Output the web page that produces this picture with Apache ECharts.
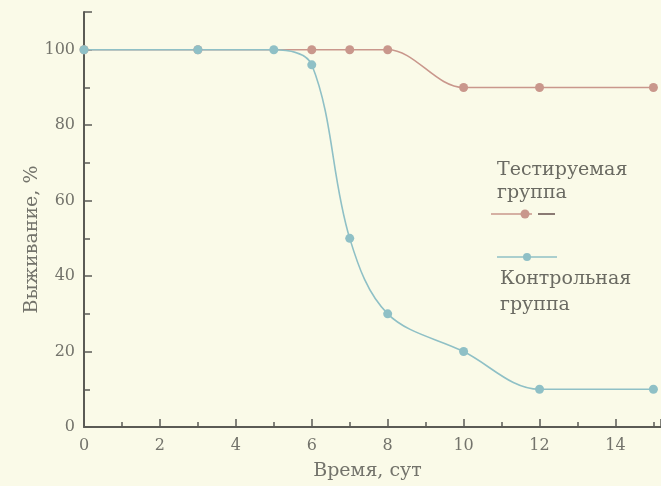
<!DOCTYPE html>
<html>
<head>
<meta charset="utf-8">
<script src="https://cdn.jsdelivr.net/npm/echarts@6/dist/echarts.min.js"></script>
<style>
  html, body { margin: 0; padding: 0; background: #fafae8; }
  #chart { width: 661px; height: 486px; }
</style>
</head>
<body>
<div id="chart"></div>
<script>
// данные
const testDays = [0, 3, 6, 7, 8, 10, 12, 15];
const testSurvival = [100, 100, 100, 100, 100, 90, 90, 90];
const controlDays = [0, 3, 5, 6, 7, 8, 10, 12, 15];
const controlSurvival = [100, 100, 100, 96, 50, 30, 20, 10, 10];

const testColor = '#c9978c';
const controlColor = '#8fc0c6';
const axisColor = '#5b5b55';
const textColor = '#73736b';
const serif = '"DejaVu Serif", "Liberation Serif", serif';

function pairs(xs, ys) {
  return xs.map(function (x, i) { return [x, ys[i]]; });
}

const chart = echarts.init(document.getElementById('chart'), null, { renderer: 'canvas' });

var option = {
  backgroundColor: '#fafae8',
  animation: false,
  textStyle: { fontFamily: serif },
  grid: { left: 84, right: 0, top: 12, bottom: 58 },
  xAxis: {
    type: 'value',
    min: 0,
    max: 15.2,
    interval: 2,
    name: 'Время, сут',
    nameLocation: 'middle',
    nameGap: 35,
    nameTextStyle: { fontSize: 19, color: textColor, fontFamily: serif, padding: [0, 10, 0, 0] },
    axisLine: { lineStyle: { color: axisColor, width: 2 } },
    axisTick: { inside: true, length: 8, lineStyle: { color: axisColor, width: 1.5 } },
    minorTick: { show: true, splitNumber: 2, length: 5, lineStyle: { color: axisColor, width: 1.5 } },
    axisLabel: { fontSize: 16, color: textColor, fontFamily: serif, margin: 11, showMaxLabel: false },
    splitLine: { show: false }
  },
  yAxis: {
    type: 'value',
    min: 0,
    max: 110,
    interval: 20,
    name: 'Выживание, %',
    nameLocation: 'middle',
    nameGap: 42,
    nameMoveOverlap: false,
    nameTextStyle: { fontSize: 19, color: textColor, fontFamily: serif, padding: [0, 40, 0, 0] },
    axisLine: { show: true, lineStyle: { color: axisColor, width: 2 } },
    axisTick: { show: true, inside: true, length: 8, lineStyle: { color: axisColor, width: 1.5 } },
    minorTick: { show: true, splitNumber: 2, length: 6, lineStyle: { color: axisColor, width: 1.5 } },
    axisLabel: { fontSize: 16, color: textColor, fontFamily: serif, margin: 9, showMaxLabel: false },
    splitLine: { show: false }
  },
  series: [
    {
      name: 'Тестируемая группа',
      type: 'line',
      data: pairs(testDays, testSurvival),
      smooth: 0.35,
      symbol: 'circle',
      symbolSize: 9,
      lineStyle: { color: testColor, width: 1.6 },
      itemStyle: { color: testColor }
    },
    {
      name: 'Контрольная группа',
      type: 'line',
      data: pairs(controlDays, controlSurvival),
      smooth: 0.35,
      symbol: 'circle',
      symbolSize: 9,
      lineStyle: { color: controlColor, width: 1.6 },
      itemStyle: { color: controlColor }
    }
  ],
  // подписи групп справа, как на рисунке
  graphic: [
    { type: 'text', left: 497, top: 159, style: { text: 'Тестируемая\nгруппа', font: '19px ' + serif, fill: '#6a6a62', lineHeight: 23 } },
    { type: 'line', shape: { x1: 491, y1: 214, x2: 532, y2: 214 }, style: { stroke: testColor, lineWidth: 1.6 } },
    { type: 'circle', shape: { cx: 525, cy: 214, r: 4.5 }, style: { fill: testColor } },
    { type: 'line', shape: { x1: 538, y1: 214, x2: 555, y2: 214 }, style: { stroke: '#6f5a55', lineWidth: 1.6 } },
    { type: 'line', shape: { x1: 497, y1: 257, x2: 557, y2: 257 }, style: { stroke: controlColor, lineWidth: 1.6 } },
    { type: 'circle', shape: { cx: 527, cy: 257, r: 4 }, style: { fill: controlColor } },
    { type: 'text', left: 500, top: 266, style: { text: 'Контрольная\nгруппа', font: '19px ' + serif, fill: '#6a6a62', lineHeight: 26 } }
  ]
};

chart.setOption(option, true);
</script>
</body>
</html>
